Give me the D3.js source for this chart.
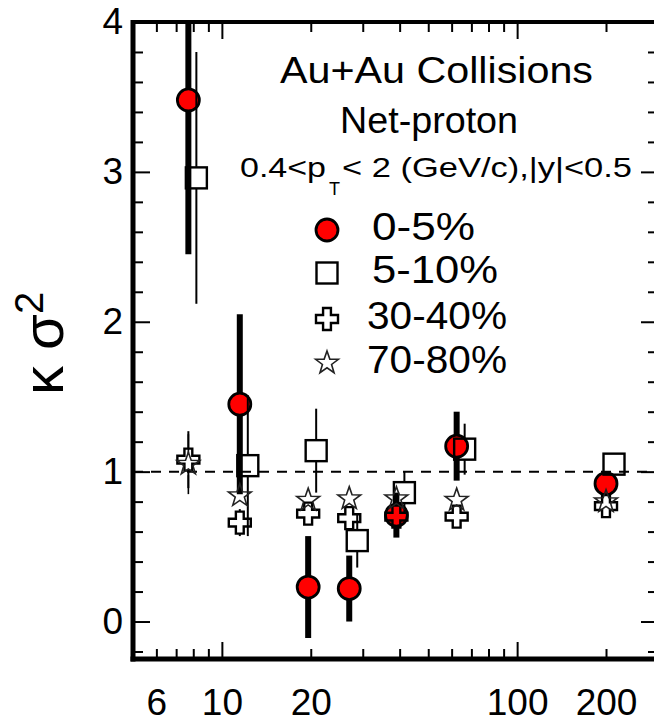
<!DOCTYPE html>
<html>
<head>
<meta charset="utf-8">
<script src="https://cdn.jsdelivr.net/npm/d3@7"></script>
<style>
  body { margin: 0; background: #fff; }
  text { font-family: "Liberation Sans", Arial, Helvetica, sans-serif; fill: #000; }
</style>
</head>
<body>
<div class="container"></div>
<script>
// beam energies (GeV) and kappa*sigma^2 per centrality
let energies = [7.7, 11.5, 19.6, 27, 39, 62.4, 200];
let cent0_5 = [3.48, 1.45, 0.23, 0.22, 0.71, 1.17, 0.92];
let cent0_5Err = [1.03, 0.60, 0.34, 0.22, 0.15, 0.23, 0.06];
let cent5_10 = [2.96, 1.04, 1.14, 0.54, 0.86, 1.15, 1.05];
let cent5_10Err = [0.84, 0.47, 0.28, 0.18, 0.14, 0.17, 0.05];
let cent30_40 = [1.08, 0.66, 0.72, 0.69, 0.70, 0.70, 0.77];
let cent30_40Err = [0.19, 0.09, 0.05, 0.06, 0.04, 0.04, 0.02];
let cent70_80 = [1.05, 0.84, 0.81, 0.82, 0.82, 0.81, 0.80];
let cent70_80Err = [0.20, 0.05, 0.03, 0.03, 0.03, 0.03, 0.02];

let xMajor = [10, 100];
let xMinor = [6, 7, 8, 9, 20, 30, 40, 50, 60, 70, 80, 90, 200, 300];
let xLabels = [6, 10, 20, 100, 200];
let yMajor = [0, 1, 2, 3, 4];
let yMinor = [-0.2, 0.2, 0.4, 0.6, 0.8, 1.2, 1.4, 1.6, 1.8, 2.2, 2.4, 2.6, 2.8, 3.2, 3.4, 3.6, 3.8];

let legendLabels = ["0-5%", "5-10%", "30-40%", "70-80%"];

let svg = d3.select(".container").append("svg")
    .attr("width", 654)
    .attr("height", 723);

let x = d3.scaleLog().domain([5, 300]).range([133, 658]);
let y = d3.scaleLinear().domain([-0.25, 4]).range([659, 22]);

let x0 = x.range()[0], x1 = x.range()[1];
let yTop = y.range()[1], yBot = y.range()[0];

// marker shapes
function crossPath(a) {
    let b = a / 2.8;
    return "M" + (-b) + "," + (-a) + "L" + b + "," + (-a) + "L" + b + "," + (-b) + "L" + a + "," + (-b) +
        "L" + a + "," + b + "L" + b + "," + b + "L" + b + "," + a + "L" + (-b) + "," + a +
        "L" + (-b) + "," + b + "L" + (-a) + "," + b + "L" + (-a) + "," + (-b) + "L" + (-b) + "," + (-b) + "Z";
}
function starPath(R) {
    let r = R * 0.4, p = [];
    for (let i = 0; i < 10; i++) {
        let ang = -Math.PI / 2 + i * Math.PI / 5;
        let rr = i % 2 === 0 ? R : r;
        p.push([rr * Math.cos(ang), rr * Math.sin(ang)]);
    }
    return "M" + p.map(d => d.join(",")).join("L") + "Z";
}

let series = [
    { vals: cent0_5, errs: cent0_5Err, type: "circle", dx: 0, errW: 6, half: 12 },
    { vals: cent5_10, errs: cent5_10Err, type: "square", dx: 8, errW: 2, half: 11 },
    { vals: cent30_40, errs: cent30_40Err, type: "cross", dx: 0, errW: 2, half: 11.5 },
    { vals: cent70_80, errs: cent70_80Err, type: "star", dx: 0, errW: 1.6, half: 11 }
];

function drawMarker(g, type) {
    if (type === "circle") {
        g.append("circle").attr("r", 11).attr("fill", "#ff0000")
            .attr("stroke", "#000").attr("stroke-width", 2.8);
    } else if (type === "square") {
        g.append("rect").attr("x", -10.5).attr("y", -10.5).attr("width", 21).attr("height", 21)
            .attr("fill", "none").attr("stroke", "#000").attr("stroke-width", 2.4);
    } else if (type === "cross") {
        g.append("path").attr("d", crossPath(11)).attr("fill", "none")
            .attr("stroke", "#000").attr("stroke-width", 2.4);
    } else {
        g.append("path").attr("d", starPath(12)).attr("fill", "none")
            .attr("stroke", "#222").attr("stroke-width", 1.6);
    }
}

// dashed line at 1
svg.append("line")
    .attr("x1", x0).attr("x2", x1)
    .attr("y1", y(1)).attr("y2", y(1))
    .attr("stroke", "#000").attr("stroke-width", 2)
    .attr("stroke-dasharray", "10,8");

// data
let plot = svg.append("g");
series.forEach(function (s) {
    let g = plot.append("g");
    energies.forEach(function (e, i) {
        let cx = x(e) + s.dx, cy = y(s.vals[i]);
        let hi = y(s.vals[i] + s.errs[i]), lo = y(s.vals[i] - s.errs[i]);
        if (s.type === "circle") {
            g.append("line").attr("x1", cx).attr("x2", cx)
                .attr("y1", Math.max(hi, yTop)).attr("y2", lo)
                .attr("stroke", "#000").attr("stroke-width", s.errW);
        } else {
            if (cy - s.half > hi) g.append("line").attr("x1", cx).attr("x2", cx)
                .attr("y1", hi).attr("y2", cy - s.half)
                .attr("stroke", "#000").attr("stroke-width", s.errW);
            if (cy + s.half < lo) g.append("line").attr("x1", cx).attr("x2", cx)
                .attr("y1", cy + s.half).attr("y2", lo)
                .attr("stroke", "#000").attr("stroke-width", s.errW);
        }
        let m = g.append("g").attr("transform", "translate(" + cx + "," + cy + ")");
        drawMarker(m, s.type);
    });
});

// axes (ticks only, frame drawn below)
function styleAxis(sel) {
    sel.select(".domain").remove();
    sel.selectAll(".tick line").attr("stroke", "#000").attr("stroke-width", 2);
}

svg.append("g").attr("transform", "translate(" + x0 + ",0)")
    .call(d3.axisLeft(y).tickValues(yMajor).tickSize(-17).tickPadding(10).tickFormat(d3.format("d")))
    .call(styleAxis)
    .call(g => g.selectAll("text").attr("font-size", 37).attr("font-family", "Liberation Sans, Arial, sans-serif"));
svg.append("g").attr("transform", "translate(" + x0 + ",0)")
    .call(d3.axisLeft(y).tickValues(yMinor).tickSize(-10).tickFormat(""))
    .call(styleAxis);
svg.append("g").attr("transform", "translate(" + x1 + ",0)")
    .call(d3.axisRight(y).tickValues(yMajor).tickSize(-17).tickFormat(""))
    .call(styleAxis);
svg.append("g").attr("transform", "translate(" + x1 + ",0)")
    .call(d3.axisRight(y).tickValues(yMinor).tickSize(-10).tickFormat(""))
    .call(styleAxis);

svg.append("g").attr("transform", "translate(0," + yBot + ")")
    .call(d3.axisBottom(x).tickValues(xMajor).tickSize(-17).tickFormat(""))
    .call(styleAxis);
svg.append("g").attr("transform", "translate(0," + yBot + ")")
    .call(d3.axisBottom(x).tickValues(xMinor).tickSize(-10).tickFormat(""))
    .call(styleAxis);
svg.append("g").attr("transform", "translate(0," + yBot + ")")
    .call(d3.axisBottom(x).tickValues(xLabels).tickSize(0).tickPadding(30).tickFormat(d3.format("d")))
    .call(styleAxis)
    .call(g => g.selectAll("text").attr("font-size", 37).attr("font-family", "Liberation Sans, Arial, sans-serif"));
svg.append("g").attr("transform", "translate(0," + yTop + ")")
    .call(d3.axisTop(x).tickValues(xMajor).tickSize(-17).tickFormat(""))
    .call(styleAxis);
svg.append("g").attr("transform", "translate(0," + yTop + ")")
    .call(d3.axisTop(x).tickValues(xMinor).tickSize(-10).tickFormat(""))
    .call(styleAxis);

// frame
svg.append("line").attr("x1", x0).attr("x2", x0).attr("y1", yTop - 2).attr("y2", yBot + 2.5)
    .attr("stroke", "#000").attr("stroke-width", 5);
svg.append("line").attr("x1", x0 - 2.5).attr("x2", x1).attr("y1", yBot).attr("y2", yBot)
    .attr("stroke", "#000").attr("stroke-width", 5);
svg.append("line").attr("x1", x0).attr("x2", x1).attr("y1", yTop).attr("y2", yTop)
    .attr("stroke", "#000").attr("stroke-width", 4);
svg.append("line").attr("x1", x1).attr("x2", x1).attr("y1", yTop).attr("y2", yBot)
    .attr("stroke", "#000").attr("stroke-width", 4);

// y title
let yt = svg.append("text")
    .attr("transform", "translate(63,395) rotate(-90)")
    .attr("font-size", 58);
yt.append("tspan").text("κ σ");
yt.append("tspan").attr("font-size", 40).attr("dy", -20).text("2");

// header texts
function headText(str, xs, yb, fs, len) {
    return svg.append("text").attr("x", xs).attr("y", yb).attr("font-size", fs)
        .attr("textLength", len).attr("lengthAdjust", "spacingAndGlyphs").text(str);
}
headText("Au+Au Collisions", 280, 83, 37, 313);
headText("Net-proton", 340, 133, 37, 178);
headText("0.4<p", 240, 177, 28, 86);
headText("T", 329, 195, 19, 11);
headText("< 2 (GeV/c),|y|<0.5", 342, 177, 28, 290);

// legend
let legX = 327, legY = [230, 273, 319, 363];
let legTextX = [372, 372, 367, 367];
let legTextLen = [103, 126, 140, 140];
legendLabels.forEach(function (lab, i) {
    let m = svg.append("g").attr("transform", "translate(" + legX + "," + legY[i] + ")");
    drawMarker(m, series[i].type);
    headText(lab, legTextX[i], legY[i] + 10, 38, legTextLen[i]);
});
</script>
</body>
</html>
